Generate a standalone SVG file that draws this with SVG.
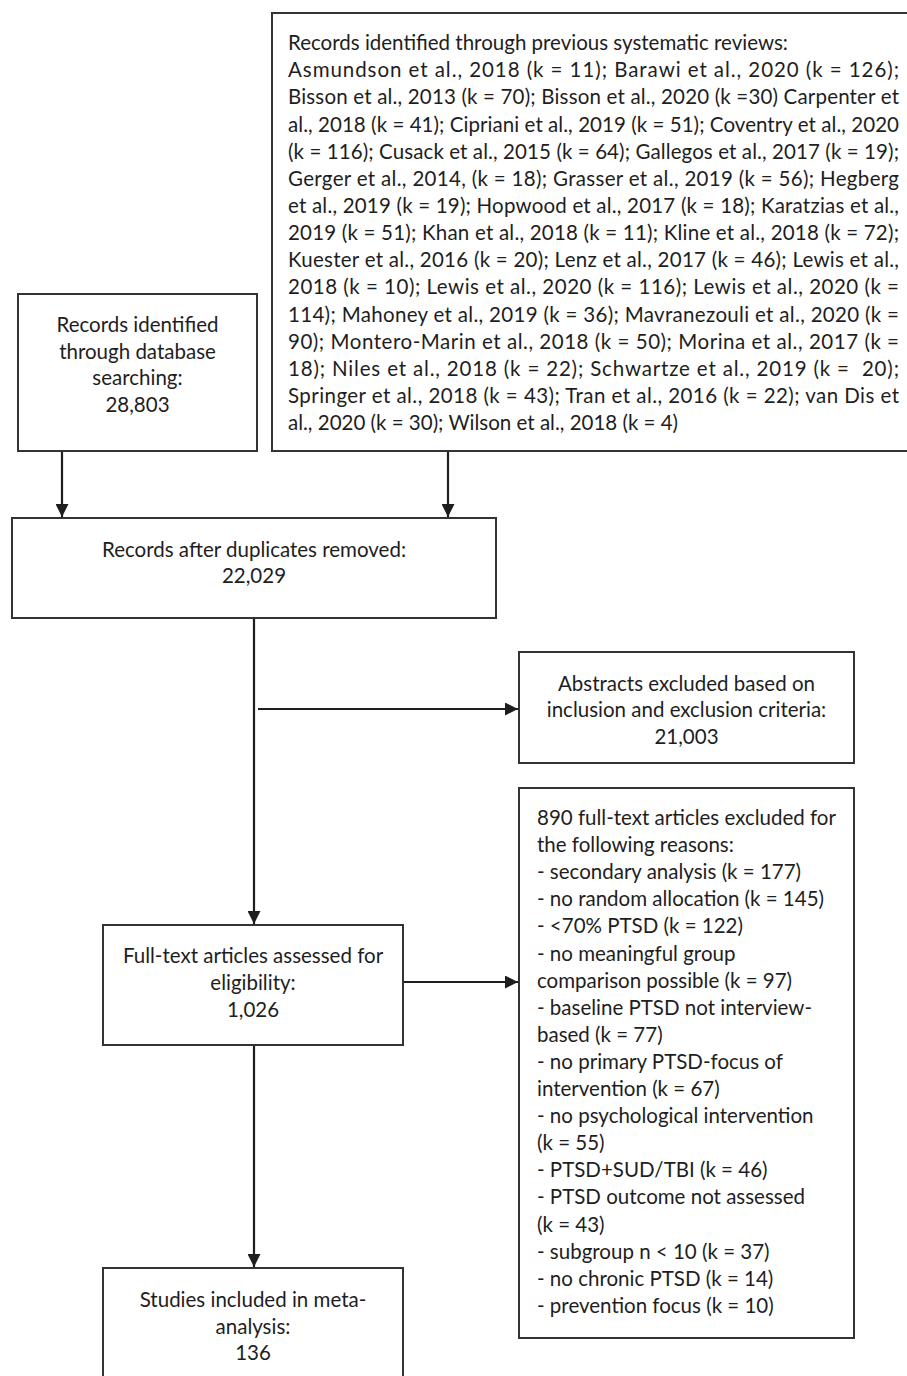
<svg xmlns="http://www.w3.org/2000/svg" width="907" height="1376" viewBox="0 0 907 1376">
<defs>
<style>
.box{fill:#fff;stroke:#333;stroke-width:2}
.t{font-family:Lato,"Liberation Sans",sans-serif;font-size:20.5px;fill:#1e1e1e}
.c{text-anchor:middle}
.ln{stroke:#1e1e1e;stroke-width:2.2;fill:none}
</style>
<marker id="ah" markerUnits="userSpaceOnUse" markerWidth="13" markerHeight="13" refX="13" refY="6.5" orient="auto">
<path d="M0,0 L13,6.5 L0,13 z" fill="#1e1e1e"/>
</marker>
</defs>
<rect width="907" height="1376" fill="#fff"/>
<g id="connectors">
<line class="ln" x1="62" y1="451" x2="62" y2="517" marker-end="url(#ah)"/>
<line class="ln" x1="448" y1="451" x2="448" y2="517" marker-end="url(#ah)"/>
<line class="ln" x1="254" y1="618" x2="254" y2="924" marker-end="url(#ah)"/>
<line class="ln" x1="258" y1="709" x2="518" y2="709" marker-end="url(#ah)"/>
<line class="ln" x1="403" y1="982" x2="518" y2="982" marker-end="url(#ah)"/>
<line class="ln" x1="254" y1="1045" x2="254" y2="1267" marker-end="url(#ah)"/>
</g>
<g id="database">
<rect class="box" x="18" y="294" width="239" height="157"/>
<text class="t c" x="137.5" y="332">Records identified</text>
<text class="t c" x="137.5" y="359">through database</text>
<text class="t c" x="137.5" y="385">searching:</text>
<text class="t c" x="137.5" y="412">28,803</text>
</g>
<g id="reviews">
<rect class="box" x="272" y="13" width="640" height="438"/>
<text class="t" x="288" y="50">Records identified through previous systematic reviews:</text>
<text class="t" x="288" y="77.2" textLength="611" lengthAdjust="spacing">Asmundson et al., 2018 (k = 11); Barawi et al., 2020 (k = 126);</text>
<text class="t" x="288" y="104.3" textLength="611" lengthAdjust="spacing">Bisson et al., 2013 (k = 70); Bisson et al., 2020 (k =30) Carpenter et</text>
<text class="t" x="288" y="131.5" textLength="611" lengthAdjust="spacing">al., 2018 (k = 41); Cipriani et al., 2019 (k = 51); Coventry et al., 2020</text>
<text class="t" x="288" y="158.6" textLength="611" lengthAdjust="spacing">(k = 116); Cusack et al., 2015 (k = 64); Gallegos et al., 2017 (k = 19);</text>
<text class="t" x="288" y="185.8" textLength="611" lengthAdjust="spacing">Gerger et al., 2014, (k = 18); Grasser et al., 2019 (k = 56); Hegberg</text>
<text class="t" x="288" y="212.9" textLength="611" lengthAdjust="spacing">et al., 2019 (k = 19); Hopwood et al., 2017 (k = 18); Karatzias et al.,</text>
<text class="t" x="288" y="240.1" textLength="611" lengthAdjust="spacing">2019 (k = 51); Khan et al., 2018 (k = 11); Kline et al., 2018 (k = 72);</text>
<text class="t" x="288" y="267.2" textLength="611" lengthAdjust="spacing">Kuester et al., 2016 (k = 20); Lenz et al., 2017 (k = 46); Lewis et al.,</text>
<text class="t" x="288" y="294.4" textLength="611" lengthAdjust="spacing">2018 (k = 10); Lewis et al., 2020 (k = 116); Lewis et al., 2020 (k =</text>
<text class="t" x="288" y="321.5" textLength="611" lengthAdjust="spacing">114); Mahoney et al., 2019 (k = 36); Mavranezouli et al., 2020 (k =</text>
<text class="t" x="288" y="348.7" textLength="611" lengthAdjust="spacing">90); Montero-Marin et al., 2018 (k = 50); Morina et al., 2017 (k =</text>
<text class="t" x="288" y="375.8" textLength="611" lengthAdjust="spacing" xml:space="preserve">18); Niles et al., 2018 (k = 22); Schwartze et al., 2019 (k =  20);</text>
<text class="t" x="288" y="403" textLength="611" lengthAdjust="spacing">Springer et al., 2018 (k = 43); Tran et al., 2016 (k = 22); van Dis et</text>
<text class="t" x="288" y="430.1">al., 2020 (k = 30); Wilson et al., 2018 (k = 4)</text>
</g>
<g id="duplicates">
<rect class="box" x="12" y="518" width="484" height="100"/>
<text class="t c" x="254" y="557">Records after duplicates removed:</text>
<text class="t c" x="254" y="583">22,029</text>
</g>
<g id="abstracts">
<rect class="box" x="519" y="652" width="335" height="111"/>
<text class="t c" x="686.5" y="691">Abstracts excluded based on</text>
<text class="t c" x="686.5" y="717">inclusion and exclusion criteria:</text>
<text class="t c" x="686.5" y="744">21,003</text>
</g>
<g id="fulltext-excluded">
<rect class="box" x="519" y="788" width="335" height="550"/>
<text class="t" x="537" y="825">890 full-text articles excluded for</text>
<text class="t" x="537" y="852.1">the following reasons:</text>
<text class="t" x="537" y="879.2">- secondary analysis (k = 177)</text>
<text class="t" x="537" y="906.3">- no random allocation (k = 145)</text>
<text class="t" x="537" y="933.4">- &lt;70% PTSD (k = 122)</text>
<text class="t" x="537" y="960.5">- no meaningful group</text>
<text class="t" x="537" y="987.6">comparison possible (k = 97)</text>
<text class="t" x="537" y="1014.7">- baseline PTSD not interview-</text>
<text class="t" x="537" y="1041.8">based (k = 77)</text>
<text class="t" x="537" y="1068.9">- no primary PTSD-focus of</text>
<text class="t" x="537" y="1096">intervention (k = 67)</text>
<text class="t" x="537" y="1123.1">- no psychological intervention</text>
<text class="t" x="537" y="1150.2">(k = 55)</text>
<text class="t" x="537" y="1177.3">- PTSD+SUD/TBI (k = 46)</text>
<text class="t" x="537" y="1204.4">- PTSD outcome not assessed</text>
<text class="t" x="537" y="1231.5">(k = 43)</text>
<text class="t" x="537" y="1258.6">- subgroup n &lt; 10 (k = 37)</text>
<text class="t" x="537" y="1285.7">- no chronic PTSD (k = 14)</text>
<text class="t" x="537" y="1312.8">- prevention focus (k = 10)</text>
</g>
<g id="fulltext-assessed">
<rect class="box" x="103" y="925" width="300" height="120"/>
<text class="t c" x="253" y="963">Full-text articles assessed for</text>
<text class="t c" x="253" y="990">eligibility:</text>
<text class="t c" x="253" y="1017">1,026</text>
</g>
<g id="included">
<rect class="box" x="103" y="1268" width="300" height="130"/>
<text class="t c" x="253" y="1307">Studies included in meta-</text>
<text class="t c" x="253" y="1334">analysis:</text>
<text class="t c" x="253" y="1360">136</text>
</g>
</svg>
